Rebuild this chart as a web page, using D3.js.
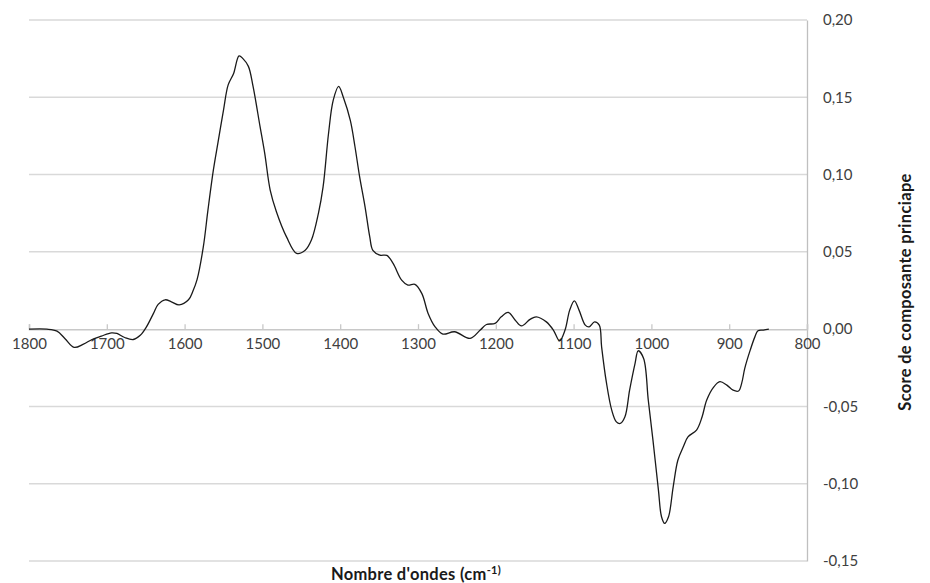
<!DOCTYPE html>
<html><head><meta charset="utf-8">
<script src="https://cdn.jsdelivr.net/npm/d3@7"></script>
<style>body{margin:0;background:#fff}svg{display:block}</style>
</head><body><svg id="c" width="930" height="583"></svg>
<script>
const wavenumbers = [1800,1777,1764,1754,1742,1730,1719,1707,1694,1687,1677,1666,1657,1649,1640,1634,1625,1617,1607,1595,1589,1584,1576,1570,1563,1557,1550,1544,1537,1530,1525,1518,1512,1503,1497,1490,1482,1469,1456,1445,1437,1428,1422,1415,1409,1402,1396,1387,1381,1375,1368,1362,1358,1349,1340,1332,1321,1313,1304,1295,1287,1278,1268,1253,1233,1220,1212,1201,1193,1184,1175,1167,1156,1148,1135,1126,1118,1111,1105,1099,1093,1085,1080,1073,1067,1064,1058,1051,1045,1040,1034,1028,1021,1017,1010,1004,998,991,987,983,978,972,966,959,953,942,935,929,920,912,903,895,888,884,880,873,867,863,856,849];
const scores = [0,0,-0.0013,-0.006,-0.0118,-0.0097,-0.0067,-0.0045,-0.0024,-0.0028,-0.0054,-0.0067,-0.004,0.0015,0.0102,0.016,0.019,0.0177,0.0157,0.019,0.025,0.032,0.053,0.077,0.103,0.121,0.1417,0.158,0.1654,0.1768,0.175,0.170,0.157,0.131,0.1137,0.090,0.076,0.0597,0.049,0.051,0.0576,0.0749,0.092,0.1266,0.148,0.157,0.150,0.135,0.118,0.0985,0.079,0.0597,0.051,0.0479,0.0477,0.0425,0.0317,0.0285,0.029,0.023,0.0102,0.0015,-0.0032,-0.0017,-0.006,-0.0006,0.003,0.0037,0.008,0.0108,0.0058,0.0021,0.0063,0.008,0.0047,-0.0006,-0.0076,-0.0006,0.0123,0.0183,0.0123,0.0026,0.0015,0.0047,0.0026,-0.0114,-0.034,-0.0524,-0.060,-0.061,-0.0567,-0.0395,-0.0222,-0.014,-0.019,-0.046,-0.0718,-0.104,-0.1214,-0.1257,-0.1214,-0.102,-0.0848,-0.0761,-0.0697,-0.0653,-0.057,-0.046,-0.0375,-0.034,-0.0362,-0.0395,-0.040,-0.0351,-0.0254,-0.0136,-0.005,-0.001,-0.0006,0];
const xTicks = [1800,1700,1600,1500,1400,1300,1200,1100,1000,900,800];
const yTicks = [0.20,0.15,0.10,0.05,0.00,-0.05,-0.10,-0.15];
const xTitle = "Nombre d'ondes (cm";
const xTitleSup = "-1)";
const yTitle = "Score de composante princiape";

const svg = d3.select("#c");
const x = d3.scaleLinear().domain([1800, 800]).range([29, 807]);
const y = d3.scaleLinear().domain([-0.15, 0.20]).range([561, 20]);
const font = "Lato, 'Open Sans', sans-serif";
const fmt = v => d3.format(".2f")(v).replace(".", ",").replace("−","-");

// gridlines
svg.append("g").selectAll("line").data(yTicks.filter(v => v !== 0)).join("line")
  .attr("x1", x(1800)).attr("x2", x(800))
  .attr("y1", d => y(d)).attr("y2", d => y(d))
  .attr("stroke", "#d9d9d9").attr("stroke-width", 1.5);

// right axis
const yAxis = d3.axisRight(y).tickValues(yTicks).tickSize(0).tickPadding(16).tickFormat(fmt);
const gy = svg.append("g").attr("transform", `translate(${x(800)},0)`).call(yAxis);
gy.select(".domain").attr("stroke", "#bfbfbf").attr("stroke-width", 1.3);
gy.selectAll("text").attr("font-family", font).attr("font-size", 15).attr("fill", "#404040");

// x axis along zero line
const xAxis = d3.axisTop(x).tickValues(xTicks).tickSize(5).tickFormat(d3.format("d"));
const gx = svg.append("g").attr("transform", `translate(0,${y(0)})`).call(xAxis);
gx.select(".domain").attr("stroke", "#c8c8c8").attr("stroke-width", 1.5);
gx.selectAll(".tick line").attr("stroke", "#c8c8c8").attr("stroke-width", 1.3);
gx.selectAll("text").attr("y", 16).attr("dy", 0).attr("font-family", font)
  .attr("font-size", 15).attr("fill", "#404040").attr("dominant-baseline", "middle");

// line
const line = d3.line().x((d, i) => x(wavenumbers[i])).y(d => y(d)).curve(d3.curveCatmullRom.alpha(0.5));
svg.append("path").datum(scores).attr("d", line)
  .attr("fill", "none").attr("stroke", "#1a1a1a").attr("stroke-width", 1.3);

// titles
const xt = svg.append("text").attr("x", 416).attr("y", 580).attr("text-anchor", "middle")
  .attr("font-family", font).attr("font-size", 16.5).attr("font-weight", "bold").attr("fill", "#1a1a1a")
  .attr("letter-spacing", 0.3);
xt.append("tspan").text(xTitle);
xt.append("tspan").attr("font-size", 11).attr("dy", -6).text(xTitleSup);

svg.append("text").attr("transform", "translate(911,292) rotate(-90)").attr("text-anchor", "middle")
  .attr("font-family", font).attr("font-size", 16.5).attr("font-weight", "bold").attr("fill", "#1a1a1a")
  .attr("letter-spacing", 0.3)
  .text(yTitle);
</script></body></html>
